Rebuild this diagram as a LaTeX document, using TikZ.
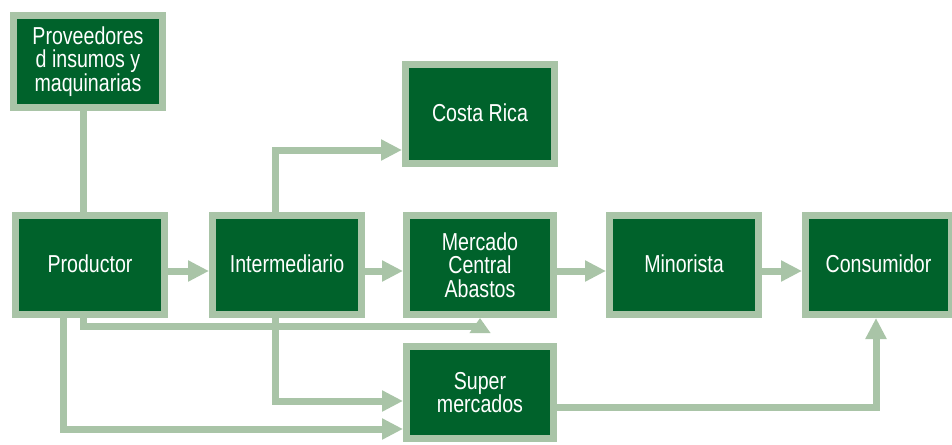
\documentclass[tikz,border=0pt]{standalone}
\usepackage{fontspec}
\setmainfont{Liberation Sans}[FakeStretch=0.8]
\usetikzlibrary{arrows.meta}
\definecolor{dkgreen}{HTML}{00622B}
\definecolor{ltgreen}{HTML}{A9C4A7}
\begin{document}
\begin{tikzpicture}[x=1pt,y=-1pt,
  box/.style={draw=ltgreen, fill=dkgreen, line width=7pt, text=white,
    align=center, inner sep=0pt, minimum width=149pt, minimum height=99pt,
    font=\fontsize{24.5}{23.5}\selectfont},
  line/.style={draw=ltgreen, line width=7pt, line join=miter, line cap=butt},
  arr/.style={line, -{Triangle[length=21pt,width=20pt]}},
  sarr/.style={line, -{Triangle[length=15pt,width=20pt]}}]
\useasboundingbox (0,0) rectangle (952,444);
% boxes (outer extents minus border)
\node[box, minimum height=92pt] (prov) at (88,61.5) {Proveedores\\d insumos y\\maquinarias};
\node[box] (prod) at (90,265) {\raisebox{3pt}{Productor}};
\node[box] (inter) at (287,265) {\raisebox{3pt}{Intermediario}};
\node[box, minimum width=147pt] (merc) at (480,265) {Mercado\\Central\\Abastos};
\node[box, minimum width=149pt] (costa) at (480,114) {\raisebox{3pt}{Costa Rica}};
\node[box] (mino) at (684,265) {\raisebox{3pt}{Minorista}};
\node[box, minimum width=146pt] (cons) at (878.5,265) {\raisebox{3pt}{Consumidor}};
\node[box, minimum width=147pt, minimum height=92pt] (super) at (480,392.5) {Super\\mercados};
% connectors
\draw[line] (prov.south -| 83,0) -- (prod.north -| 83,0);
\draw[arr] (prod.east |- 0,271) -- (inter.west |- 0,271);
\draw[arr] (inter.east |- 0,271) -- (merc.west |- 0,271);
\draw[arr] (merc.east |- 0,271) -- (mino.west |- 0,271);
\draw[arr] (mino.east |- 0,271) -- (cons.west |- 0,271);
\draw[arr] (inter.north -| 275,0) |- (costa.west |- 0,150);
\draw[line] (prod.south -| 83,0) |- (483.5,326);
\draw[sarr] (480,333) -- (merc.south -| 480,0);
\draw[arr] (prod.south -| 63,0) |- (super.west |- 0,429);
\draw[arr] (inter.south -| 275,0) |- (super.west |- 0,401);
\draw[arr] (super.east |- 0,407) -| (cons.south -| 876,0);
\end{tikzpicture}
\end{document}
